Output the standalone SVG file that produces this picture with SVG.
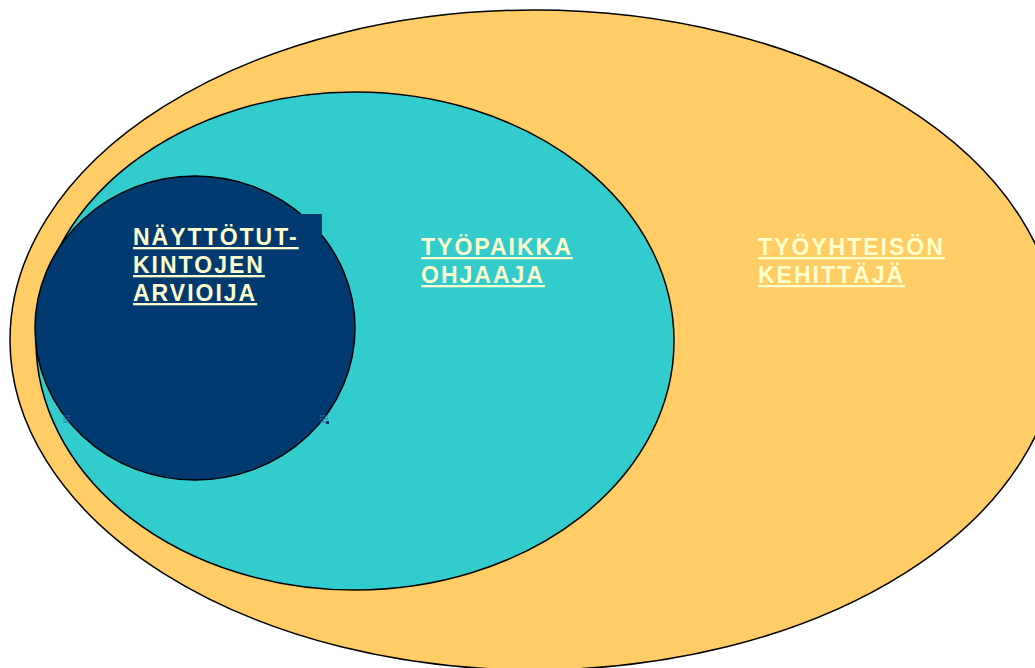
<svg xmlns="http://www.w3.org/2000/svg" width="1035" height="668" viewBox="0 0 1035 668">
<style>
.lbl{font-family:"Liberation Sans",Arial,sans-serif;font-weight:bold;font-size:23px;fill:#FFFFCC;letter-spacing:2px;text-decoration:underline;}
.edge{stroke:#000;stroke-width:1.5;}
</style>
<rect width="1035" height="668" fill="#fff"/>
<g id="outer">
<ellipse cx="534" cy="340" rx="524" ry="330" fill="#FFCC66" class="edge"/>
<text class="lbl" x="758" y="255">TYÖYHTEISÖN</text>
<text class="lbl" x="758" y="283">KEHITTÄJÄ</text>
</g>
<g id="middle">
<ellipse cx="355" cy="341" rx="319" ry="249" fill="#33CCCC" class="edge"/>
<text class="lbl" x="421" y="255">TYÖPAIKKA</text>
<text class="lbl" x="421" y="283">OHJAAJA</text>
</g>
<g id="inner">
<ellipse cx="195" cy="328" rx="160" ry="152" fill="#003A70" class="edge"/>
<rect x="290" y="214" width="32" height="40" fill="#003A70"/>
<g stroke="#2E6FA8" stroke-width="1">
<line x1="63" y1="416" x2="70" y2="416"/><line x1="63" y1="419" x2="70" y2="419"/><line x1="63" y1="422" x2="70" y2="422"/>
<line x1="320" y1="416" x2="328" y2="416"/><line x1="320" y1="419" x2="328" y2="419"/><line x1="320" y1="422" x2="326" y2="422"/>
</g>
<rect x="326" y="421" width="3" height="3" fill="#003A70"/>
<text class="lbl" x="133" y="245">NÄYTTÖTUT-</text>
<text class="lbl" x="133" y="273">KINTOJEN</text>
<text class="lbl" x="133" y="301">ARVIOIJA</text>
</g>
</svg>
